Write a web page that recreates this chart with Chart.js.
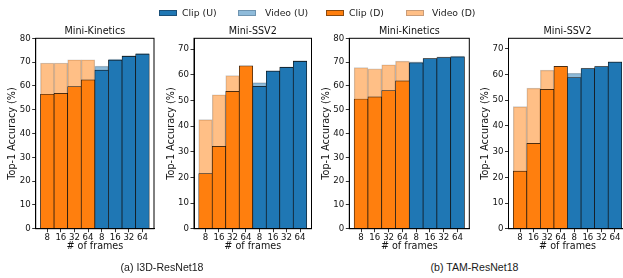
<!DOCTYPE html>
<html>
<head>
<meta charset="utf-8">
<script src="https://cdn.jsdelivr.net/npm/chart.js@4.4.1/dist/chart.umd.min.js"></script>
<style>
  html, body { margin: 0; padding: 0; background: #fff; overflow: hidden; width: 623px; height: 278px; }
  canvas { position: absolute; top: 0; }
  .lg { position: absolute; font-family: "DejaVu Sans"; font-size: 9.3px; color: #1a1a1a; white-space: nowrap; line-height: 1; }
  .sw { position: absolute; width: 18px; height: 6px; box-sizing: border-box; }
  .cap { position: absolute; font-family: "Liberation Sans"; font-size: 10.6px; color: #1a1a1a; white-space: nowrap; transform: translate(-50%, -50%); }
</style>
</head>
<body>
<div class="sw" style="left:159px;top:9.5px;background:#1f77b4;border:1px solid #1a4f78"></div>
<div class="lg" style="left:182px;top:8px">Clip (U)</div>
<div class="sw" style="left:238px;top:9.5px;background:#8fbbda;border:1px solid #6f94b0"></div>
<div class="lg" style="left:265px;top:8px">Video (U)</div>
<div class="sw" style="left:326px;top:9.5px;background:#ff7f0e;border:1px solid #8a4a10"></div>
<div class="lg" style="left:349px;top:8px">Clip (D)</div>
<div class="sw" style="left:406px;top:9.5px;background:#ffbf86;border:1px solid #c99c78"></div>
<div class="lg" style="left:432px;top:8px">Video (D)</div>
<div class="cap" style="left:162px;top:266.7px">(a) I3D-ResNet18</div>
<div class="cap" style="left:474.5px;top:266.7px">(b) TAM-ResNet18</div>
<script>
// ---------- data ----------
const frameLabels = ["8", "16", "32", "64", "8", "16", "32", "64"];
const panelTitles = ["Mini-Kinetics", "Mini-SSV2", "Mini-Kinetics", "Mini-SSV2"];
const yMaxes = [80, 74.2, 80, 74.1];
const yTickValues = [0, 10, 20, 30, 40, 50, 60, 70, 80];

// I3D-ResNet18, Mini-Kinetics
const i3dKinClipD = [56.5, 56.9, 59.7, 62.5];
const i3dKinVideoD = [69.6, 69.6, 71.0, 71.0];
const i3dKinClipU = [66.6, 70.8, 72.4, 73.4];
const i3dKinVideoU = [68.3, 71.3, 72.7, 73.7];
// I3D-ResNet18, Mini-SSV2
const i3dSsvClipD = [21.5, 32.1, 53.5, 63.5];
const i3dSsvVideoD = [42.5, 52.2, 59.7, 63.3];
const i3dSsvClipU = [55.5, 61.4, 62.9, 65.2];
const i3dSsvVideoU = [56.9, 61.6, 63.1, 65.5];
// TAM-ResNet18, Mini-Kinetics
const tamKinClipD = [54.5, 55.4, 58.0, 62.1];
const tamKinVideoD = [67.7, 67.2, 68.9, 70.4];
const tamKinClipU = [69.7, 71.5, 71.9, 72.2];
const tamKinVideoU = [70.1, 71.6, 72.2, 72.5];
// TAM-ResNet18, Mini-SSV2
const tamSsvClipD = [22.4, 33.2, 54.2, 63.2];
const tamSsvVideoD = [47.5, 54.7, 61.7, 63.0];
const tamSsvClipU = [58.8, 62.3, 63.1, 64.8];
const tamSsvVideoU = [60.5, 62.5, 63.3, 65.0];

const panelClip = [
  i3dKinClipD.concat(i3dKinClipU), i3dSsvClipD.concat(i3dSsvClipU),
  tamKinClipD.concat(tamKinClipU), tamSsvClipD.concat(tamSsvClipU)
];
const panelVideo = [
  i3dKinVideoD.concat(i3dKinVideoU), i3dSsvVideoD.concat(i3dSsvVideoU),
  tamKinVideoD.concat(tamKinVideoU), tamSsvVideoD.concat(tamSsvVideoU)
];

// ---------- layout ----------
const plotLefts = [35.7, 194, 349.3, 508.5];
const plotRights = [154, 311.5, 469.3, 626.5];
const plotTop = 38.3, plotBottom = 228.7, canvasH = 258;
const titleY = 31.7;

const clipColors = ["#ff7f0e","#ff7f0e","#ff7f0e","#ff7f0e","#1f77b4","#1f77b4","#1f77b4","#1f77b4"];
const videoColors = ["rgba(255,127,14,0.5)","rgba(255,127,14,0.5)","rgba(255,127,14,0.5)","rgba(255,127,14,0.5)",
                     "rgba(31,119,180,0.5)","rgba(31,119,180,0.5)","rgba(31,119,180,0.5)","rgba(31,119,180,0.5)"];

const tickFont = { family: "DejaVu Sans", size: 8.6 };
const labelFont = { family: "DejaVu Sans", size: 9.6, lineHeight: 1.2 };
const lh = 9.6 * 1.2;

const boxPlugin = {
  id: 'box',
  afterDraw(chart) {
    const a = chart.chartArea, ctx = chart.ctx;
    ctx.save();
    ctx.strokeStyle = '#000';
    ctx.lineWidth = 1;
    ctx.strokeRect(a.left, a.top, a.right - a.left, a.bottom - a.top);
    ctx.fillStyle = '#111';
    ctx.font = '9.6px "DejaVu Sans"';
    ctx.textAlign = 'center';
    ctx.textBaseline = 'middle';
    ctx.fillText(chart.options.panelTitle, (a.left + a.right) / 2, titleY);
    ctx.restore();
  }
};

for (let p = 0; p < 4; p++) {
  const cLeft = Math.floor(plotLefts[p]) - 36;
  const yW = plotLefts[p] - cLeft;
  const cW = Math.ceil(yW + (plotRights[p] - plotLefts[p]) + 4);
  const padRight = cW - yW - (plotRights[p] - plotLefts[p]);
  const cv = document.createElement('canvas');
  cv.width = cW; cv.height = canvasH;
  cv.style.left = cLeft + 'px';
  cv.style.width = cW + 'px'; cv.style.height = canvasH + 'px';
  document.body.insertBefore(cv, document.body.firstChild);

  const clipData = panelClip[p].map((v, i) => ({ x: i, y: v }));
  const videoData = panelVideo[p].map((v, i) => ({ x: i, y: v }));
  const ymax = yMaxes[p];

  new Chart(cv, {
    type: 'bar',
    data: {
      datasets: [
        { label: 'Clip', data: clipData, backgroundColor: clipColors, borderColor: '#111',
          borderWidth: 0.7, grouped: false, barPercentage: 1, categoryPercentage: 1 },
        { label: 'Video', data: videoData, backgroundColor: videoColors, borderColor: 'rgba(0,0,0,0.22)',
          borderWidth: 0.7, grouped: false, barPercentage: 1, categoryPercentage: 1 }
      ]
    },
    options: {
      panelTitle: panelTitles[p],
      responsive: false,
      animation: false,
      layout: { padding: { left: 0, right: padRight, top: plotTop, bottom: 0 } },
      plugins: {
        legend: { display: false },
        tooltip: { enabled: false },
        title: { display: false }
      },
      scales: {
        x: {
          type: 'linear', min: -0.85, max: 7.85, offset: false,
          afterBuildTicks: (axis) => { axis.ticks = [0,1,2,3,4,5,6,7].map(v => ({ value: v })); },
          afterFit: (axis) => { axis.height = canvasH - plotBottom; },
          ticks: { autoSkip: false, maxRotation: 0, minRotation: 0, padding: 0, color: '#111', font: tickFont,
                   callback: (v, i) => frameLabels[i] },
          grid: { display: true, offset: false, drawOnChartArea: false, drawTicks: true, tickLength: 3.5, tickColor: '#000', tickWidth: 0.8 },
          border: { display: true, color: '#000', width: 1 },
          title: { display: true, text: '# of frames', color: '#111', font: labelFont, padding: { top: 0, bottom: (canvasH - lh / 2) - 246.5 } }
        },
        y: {
          type: 'linear', min: 0, max: ymax,
          afterBuildTicks: (axis) => { axis.ticks = yTickValues.filter(v => v <= ymax).map(v => ({ value: v })); },
          afterFit: (axis) => { axis.width = yW; },
          ticks: { padding: 1.5, color: '#111', font: tickFont },
          grid: { display: true, drawOnChartArea: false, drawTicks: true, tickLength: 3.5, tickColor: '#000', tickWidth: 0.8 },
          border: { display: true, color: '#000', width: 1 },
          title: { display: true, text: 'Top-1 Accuracy (%)', color: '#111', font: labelFont,
                   padding: { top: (plotLefts[p] - 23) - cLeft - lh / 2, bottom: 0 } }
        }
      }
    },
    plugins: [boxPlugin]
  });
}
</script>
</body>
</html>
